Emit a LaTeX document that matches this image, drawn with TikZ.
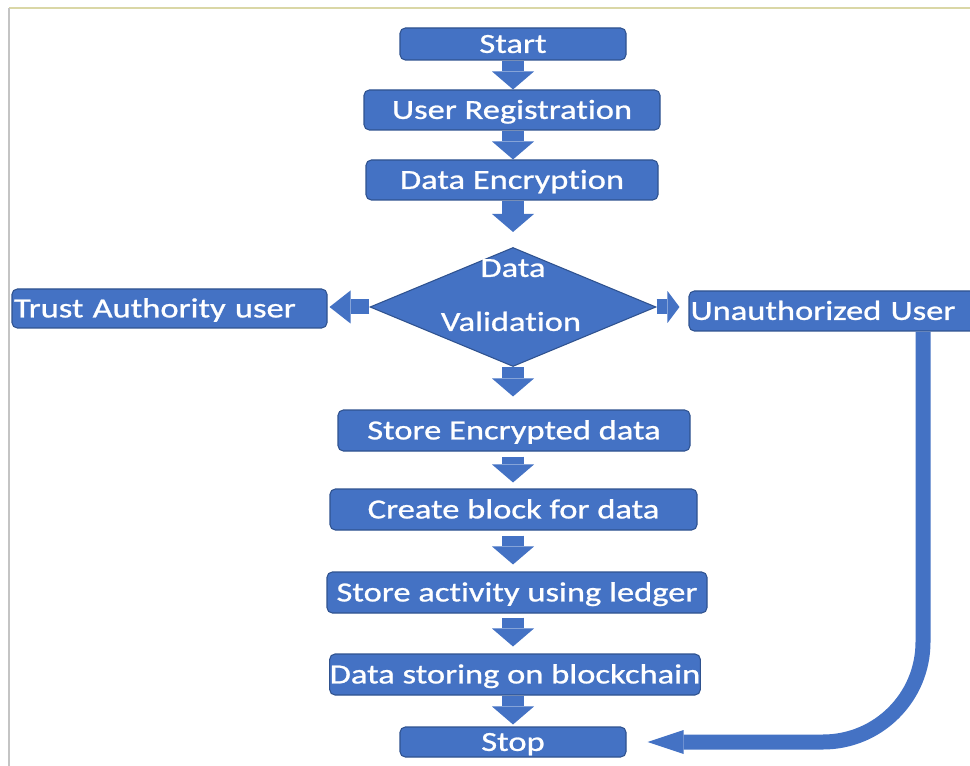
\documentclass[tikz,border=0pt]{standalone}
\usepackage{fontspec}
\setmainfont{Carlito}[Ligatures=NoCommon, FakeStretch=1.25, FakeBold=0.9]
\usetikzlibrary{arrows.meta,shapes.geometric}
\definecolor{boxblue}{HTML}{4472C4}
\definecolor{boxedge}{HTML}{2F528F}
\definecolor{pageline}{HTML}{DAD7A6}
\definecolor{sideline}{HTML}{C4C4C4}
\begin{document}
\begin{tikzpicture}[x=0.75pt,y=-0.75pt,
  box/.style={draw=boxedge, fill=boxblue, rounded corners=4pt, line width=0.8pt,
    text=white, font=\fontsize{20.7pt}{25pt}\selectfont, inner sep=0pt,
    text height=13.35pt, text depth=0pt},
  lbl/.style={text=white, font=\fontsize{20.7pt}{25pt}\selectfont, inner sep=0pt,
    text height=13.35pt, text depth=0pt},
  varrow/.style={draw=boxblue, line width=16.5pt,
    -{Triangle[length=13.5pt,width=31.5pt,line width=0pt]}},
  larrow/.style={draw=boxblue, line width=11.25pt,
    -{Triangle[length=15.75pt,width=24.75pt,line width=0pt]}},
  rarrow/.style={draw=boxblue, line width=11.25pt,
    -{Triangle[length=9pt,width=24pt,line width=0pt]}},
  carrow/.style={draw=boxblue, line width=11.25pt, rounded corners=75pt,
    -{Triangle[length=27pt,width=18pt,line width=0pt]}}
]
\useasboundingbox (0,0) rectangle (970,766);
\clip (0,0) rectangle (970,766);
\fill[white] (0,0) rectangle (970,766);
\draw[pageline, line width=1.2pt] (9,8) -- (975,8);
\draw[sideline, line width=1.2pt] (9,8) -- (9,770);

\node[box, minimum width=226*0.75pt, minimum height=32*0.75pt] (start) at (513,44) {Start};
\node[box, minimum width=296*0.75pt, minimum height=40*0.75pt] (ur) at (512,110) {User Registration};
\node[box, minimum width=292*0.75pt, minimum height=40*0.75pt] (de) at (512,180) {Data Encryption};
\node[diamond, draw=boxedge, fill=boxblue, line width=0.8pt, inner sep=0pt,
  minimum width=286*0.75pt, minimum height=119*0.75pt] (dv) at (513,307) {};
\node[lbl] (dvt1) at (513,268) {Data};
\node[lbl] (dvt2) at (511,322) {Validation};
\node[box, minimum width=315*0.75pt, minimum height=39*0.75pt, inner xsep=1.5pt,
  text width=311*0.75pt, align=left] (tau) at (169.5,308.5) {Trust Authority user};
\node[box, minimum width=286*0.75pt, minimum height=40*0.75pt, inner xsep=1pt,
  text width=283*0.75pt, align=left] (uu) at (832,311) {Unauthorized User};
\node[box, minimum width=352*0.75pt, minimum height=41*0.75pt] (sed) at (514,430.5) {Store Encrypted data};
\node[box, minimum width=367*0.75pt, minimum height=41*0.75pt] (cb) at (513.5,509.5) {Create block for data};
\node[box, minimum width=380*0.75pt, minimum height=41*0.75pt] (sal) at (517,592.5) {Store activity using ledger};
\node[box, minimum width=370*0.75pt, minimum height=41*0.75pt] (dsb) at (515,674.5) {Data storing on blockchain};
\node[box, minimum width=226*0.75pt, minimum height=30*0.75pt] (stop) at (513,742) {Stop};

\draw[varrow] (start.south) -- (ur.north -| start.south);
\draw[varrow] (ur.south -| start) -- (de.north -| start);
\draw[varrow, shorten >=11.25pt] (de.south -| start) -- (dv.north -| start);
\draw[varrow, shorten >=9.75pt] (dv.south -| start) -- (sed.north -| start);
\draw[varrow, shorten <=3.75pt, shorten >=4.5pt] (sed.south -| start) -- (cb.north -| start);
\draw[varrow, shorten <=3.75pt, shorten >=5.25pt] (cb.south -| start) -- (sal.north -| start);
\draw[varrow, shorten <=3pt, shorten >=5.25pt] (sal.south -| start) -- (dsb.north -| start);
\draw[varrow, shorten >=1.5pt] (dsb.south -| start) -- (stop.north -| start);
\draw[larrow, shorten >=1.5pt] (dv.west) -- (dv.west -| tau.east);
\draw[rarrow, shorten >=6.75pt] (dv.east) -- (dv.east -| uu.west);
\draw[carrow, shorten >=15.75pt] ([xshift=68.25pt]uu.south) |- (stop.east);
\end{tikzpicture}
\end{document}
